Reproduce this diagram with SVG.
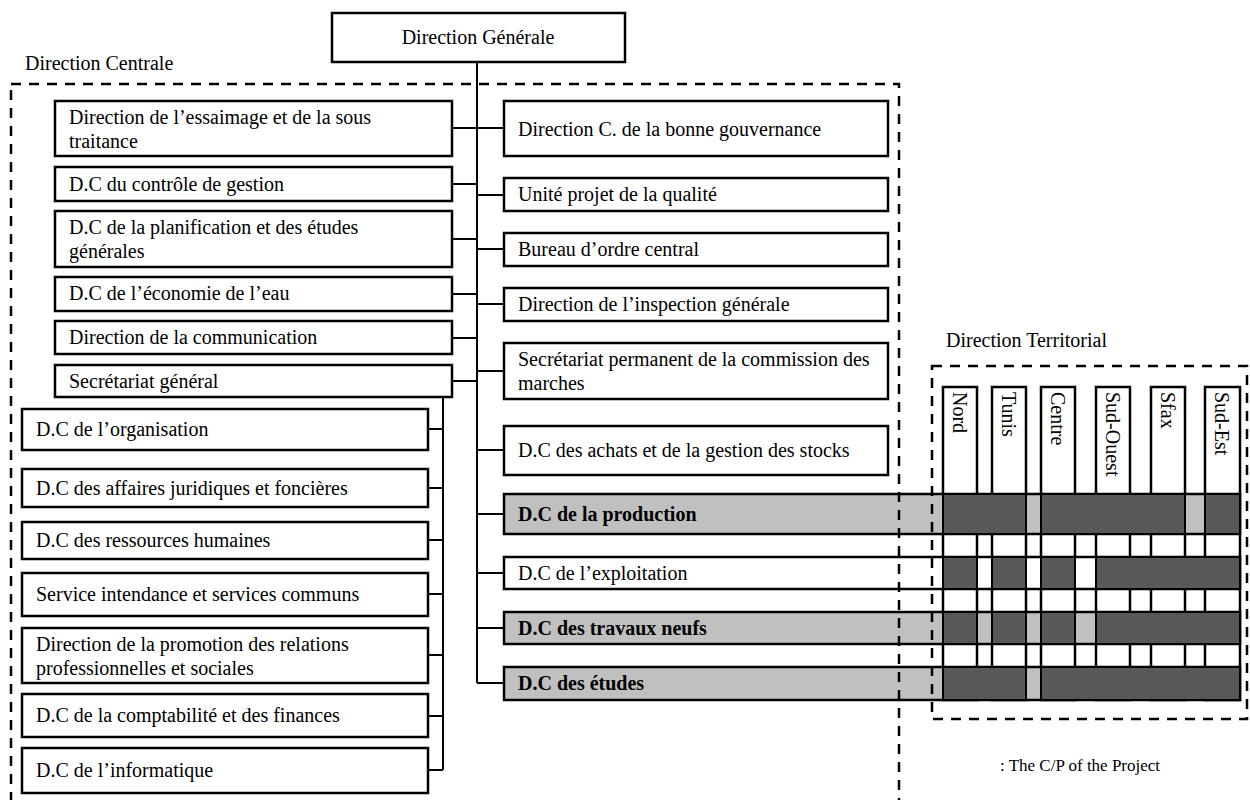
<svg xmlns="http://www.w3.org/2000/svg" width="1250" height="800" viewBox="0 0 1250 800">
<style>
.box{fill:#fff;stroke:#000;stroke-width:2.5}
.gbox{fill:#c0c0c0;stroke:#000;stroke-width:2.5}
.dk{fill:#585858;stroke:#000;stroke-width:2}
.col{fill:#fff;stroke:#000;stroke-width:2.5}
.t{font-family:"Liberation Serif","Times New Roman",serif;font-size:20px;fill:#000}
.b{font-weight:bold}
.lg{font-size:17px}
.conn{stroke:#000;stroke-width:2;fill:none}
.dash{fill:none;stroke:#000;stroke-width:2.5;stroke-dasharray:10 8}
</style>
<rect width="1250" height="800" fill="#fff"/>

<text class="t" x="25" y="70">Direction Centrale</text>
<text class="t" x="946" y="347">Direction Territorial</text>

<g id="connectors">
<path class="conn" d="M477 62V683"/>
<path class="conn" d="M452 128H504M452 184H477M452 239H477M452 294H477M452 338H477M452 381H477"/>
<path class="conn" d="M477 195H504M477 249H504M477 304H504M477 371H504M477 450H504M477 514H504M477 573H504M477 628H504M477 683H504"/>
<path class="conn" d="M443 397V770M428 429H443M428 488H443M428 540H443M428 594H443M428 655H443M428 716H443M428 770H443"/>
</g>

<g id="n-dg"><rect class="box" x="332" y="13" width="293" height="49"/><text class="t" x="478" y="44" text-anchor="middle">Direction Générale</text></g>

<g id="n-l1"><rect class="box" x="55" y="101" width="397" height="55"/><text class="t" x="69" y="124">Direction de l’essaimage et de la sous</text><text class="t" x="69" y="148">traitance</text></g>
<g id="n-l2"><rect class="box" x="55" y="167" width="397" height="34"/><text class="t" x="69" y="191">D.C du contrôle de gestion</text></g>
<g id="n-l3"><rect class="box" x="55" y="211" width="397" height="56"/><text class="t" x="69" y="234">D.C de la planification et des études</text><text class="t" x="69" y="258">générales</text></g>
<g id="n-l4"><rect class="box" x="55" y="277" width="397" height="34"/><text class="t" x="69" y="300">D.C de l’économie de l’eau</text></g>
<g id="n-l5"><rect class="box" x="55" y="321" width="397" height="33"/><text class="t" x="69" y="344">Direction de la communication</text></g>
<g id="n-l6"><rect class="box" x="55" y="365" width="397" height="32"/><text class="t" x="69" y="388">Secrétariat général</text></g>

<g id="n-s1"><rect class="box" x="22" y="409" width="406" height="41"/><text class="t" x="36" y="436">D.C de l’organisation</text></g>
<g id="n-s2"><rect class="box" x="22" y="469" width="406" height="38"/><text class="t" x="36" y="495">D.C des affaires juridiques et foncières</text></g>
<g id="n-s3"><rect class="box" x="22" y="522" width="406" height="37"/><text class="t" x="36" y="547">D.C des ressources humaines</text></g>
<g id="n-s4"><rect class="box" x="22" y="573" width="406" height="43"/><text class="t" x="36" y="601">Service intendance et services communs</text></g>
<g id="n-s5"><rect class="box" x="22" y="628" width="406" height="55"/><text class="t" x="36" y="651">Direction de la promotion des relations</text><text class="t" x="36" y="675">professionnelles et sociales</text></g>
<g id="n-s6"><rect class="box" x="22" y="694" width="406" height="43"/><text class="t" x="36" y="722">D.C de la comptabilité et des finances</text></g>
<g id="n-s7"><rect class="box" x="22" y="748" width="406" height="45"/><text class="t" x="36" y="777">D.C de l’informatique</text></g>

<g id="n-r1"><rect class="box" x="504" y="101" width="384" height="55"/><text class="t" x="518" y="136">Direction C. de la bonne gouvernance</text></g>
<g id="n-r2"><rect class="box" x="504" y="178" width="384" height="33"/><text class="t" x="518" y="201">Unité projet de la qualité</text></g>
<g id="n-r3"><rect class="box" x="504" y="233" width="384" height="33"/><text class="t" x="518" y="256">Bureau d’ordre central</text></g>
<g id="n-r4"><rect class="box" x="504" y="288" width="384" height="33"/><text class="t" x="518" y="311">Direction de l’inspection générale</text></g>
<g id="n-r5"><rect class="box" x="504" y="343" width="384" height="56"/><text class="t" x="518" y="366">Secrétariat permanent de la commission des</text><text class="t" x="518" y="390">marches</text></g>
<g id="n-r6"><rect class="box" x="504" y="426" width="384" height="49"/><text class="t" x="518" y="457">D.C des achats et de la gestion des stocks</text></g>

<g id="n-regions">
<rect class="col" x="943" y="387" width="34" height="313"/>
<rect class="col" x="992" y="387" width="34" height="313"/>
<rect class="col" x="1041" y="387" width="34" height="313"/>
<rect class="col" x="1096" y="387" width="34" height="313"/>
<rect class="col" x="1151" y="387" width="34" height="313"/>
<rect class="col" x="1205" y="387" width="35" height="313"/>
<text class="t" transform="translate(953 392) rotate(90)">Nord</text>
<text class="t" transform="translate(1002 392) rotate(90)">Tunis</text>
<text class="t" transform="translate(1051 392) rotate(90)">Centre</text>
<text class="t" transform="translate(1106 392) rotate(90)">Sud-Ouest</text>
<text class="t" transform="translate(1161 392) rotate(90)">Sfax</text>
<text class="t" transform="translate(1215 392) rotate(90)">Sud-Est</text>
</g>

<g id="n-prod"><rect class="gbox" x="504" y="494" width="736" height="40"/>
<rect class="dk" x="943" y="494" width="83" height="40"/><rect class="dk" x="1041" y="494" width="144" height="40"/><rect class="dk" x="1205" y="494" width="35" height="40"/>
<text class="t b" x="518" y="521">D.C de la production</text></g>
<g id="n-expl"><rect class="box" x="504" y="557" width="736" height="32"/>
<rect class="dk" x="943" y="557" width="34" height="32"/><rect class="dk" x="992" y="557" width="34" height="32"/><rect class="dk" x="1041" y="557" width="34" height="32"/><rect class="dk" x="1096" y="557" width="144" height="32"/>
<text class="t" x="518" y="580">D.C de l’exploitation</text></g>
<g id="n-trav"><rect class="gbox" x="504" y="612" width="736" height="32"/>
<rect class="dk" x="943" y="612" width="34" height="32"/><rect class="dk" x="992" y="612" width="34" height="32"/><rect class="dk" x="1041" y="612" width="34" height="32"/><rect class="dk" x="1096" y="612" width="144" height="32"/>
<text class="t b" x="518" y="635">D.C des travaux neufs</text></g>
<g id="n-etud"><rect class="gbox" x="504" y="667" width="736" height="33"/>
<rect class="dk" x="943" y="667" width="83" height="33"/><rect class="dk" x="1041" y="667" width="199" height="33"/>
<text class="t b" x="518" y="690">D.C des études</text></g>

<g id="frames">
<rect class="dash" x="11" y="84" width="888" height="740"/>
<rect class="dash" x="932" y="366" width="315" height="353"/>
</g>

<text class="t lg" x="1000" y="771">: The C/P of the Project</text>
</svg>
